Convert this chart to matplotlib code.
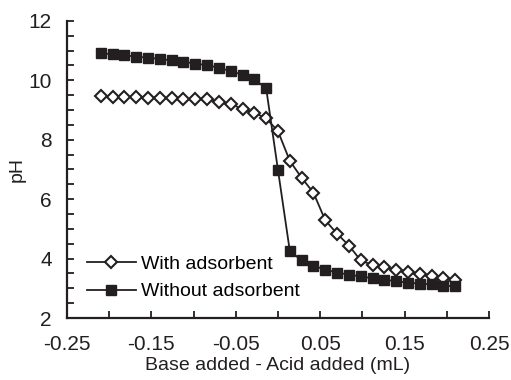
import numpy as np
import matplotlib
matplotlib.use("Agg")
import matplotlib.pyplot as plt
from matplotlib.ticker import MultipleLocator, FixedLocator

plt.rcParams['font.family'] = ['Liberation Sans', 'DejaVu Sans']

# volume difference (base added - acid added), mL
x_ml = [-0.21, -0.196, -0.182, -0.168, -0.154, -0.14, -0.126, -0.112, -0.098, -0.084,
        -0.07, -0.056, -0.042, -0.028, -0.014, 0.0, 0.014, 0.028, 0.042, 0.056,
        0.07, 0.084, 0.098, 0.112, 0.126, 0.14, 0.154, 0.168, 0.182, 0.196, 0.21]

ph_with = [9.48, 9.45, 9.44, 9.43, 9.42, 9.42, 9.40, 9.36, 9.36, 9.36,
           9.27, 9.21, 9.03, 8.91, 8.72, 8.29, 7.29, 6.72, 6.22, 5.29,
           4.84, 4.44, 3.94, 3.78, 3.72, 3.61, 3.55, 3.47, 3.43, 3.36, 3.29]

ph_without = [10.91, 10.88, 10.84, 10.80, 10.76, 10.72, 10.67, 10.63, 10.56, 10.51,
              10.42, 10.31, 10.19, 10.03, 9.73, 6.98, 4.26, 3.94, 3.76, 3.63,
              3.53, 3.46, 3.40, 3.34, 3.29, 3.24, 3.19, 3.16, 3.13, 3.09, 3.07]

fig = plt.figure(figsize=(5.11, 3.80), dpi=100)
ax = fig.add_axes([0.131, 0.163, 0.826, 0.782])

ax.plot(x_ml, ph_with, color='#231f20', lw=1.3, marker='D', ms=6,
        mfc='white', mec='#231f20', mew=1.5, label='With adsorbent')
ax.plot(x_ml, ph_without, color='#231f20', lw=1.3, marker='s', ms=6.5,
        mfc='#231f20', mec='#231f20', label='Without adsorbent')

ax.set_xlim(-0.25, 0.25)
ax.set_ylim(2, 12)
ax.xaxis.set_major_locator(FixedLocator([-0.25, -0.15, -0.05, 0.05, 0.15, 0.25]))
ax.xaxis.set_minor_locator(FixedLocator([-0.2, -0.1, 0.0, 0.1, 0.2]))
ax.set_xticklabels(['-0.25', '-0.15', '-0.05', '0.05', '0.15', '0.25'])
ax.yaxis.set_major_locator(MultipleLocator(2))
ax.yaxis.set_minor_locator(MultipleLocator(0.5))

for s in ['top', 'right']:
    ax.spines[s].set_visible(False)
for s in ['left', 'bottom']:
    ax.spines[s].set_linewidth(1.6)
    ax.spines[s].set_color('#231f20')

ax.tick_params(which='both', direction='in', length=5, width=1.3, color='#231f20')
ax.tick_params(which='major', labelsize=15, labelcolor='#231f20')
ax.tick_params(axis='x', which='major', pad=12)
ax.tick_params(axis='y', which='major', pad=11)

ax.set_xlabel('Base added - Acid added (mL)', fontsize=14, color='#231f20', labelpad=2.5)
ax.set_ylabel('pH', fontsize=14, color='#231f20', labelpad=2)

ax.legend(loc='lower left', bbox_to_anchor=(0.02, 0.02), frameon=False,
          fontsize=14, handlelength=2.5, handletextpad=0.25, labelspacing=0.5,
          borderaxespad=0.2)

fig.savefig('out.png', dpi=100)
